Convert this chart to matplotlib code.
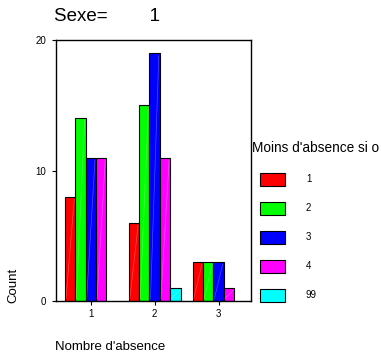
import matplotlib
matplotlib.use("Agg")
import matplotlib.pyplot as plt
import numpy as np
from matplotlib.patches import Patch

plt.rcParams['font.family'] = ['Liberation Sans', 'DejaVu Sans']

categories = ["1", "2", "3"]
series_labels = ["1", "2", "3", "4", "99"]
counts = {
    "1": [8, 6, 3],
    "2": [14, 15, 3],
    "3": [11, 19, 3],
    "4": [11, 11, 1],
    "99": [0, 1, 0],
}
colors = ["#FF0000", "#00FF00", "#0000FF", "#FF00FF", "#00FFFF"]
y_ticks = [0, 10, 20]

fig = plt.figure(figsize=(3.81, 3.58), dpi=100)
ax = fig.add_axes([0.147, 0.159, 0.512, 0.729])

x = np.arange(1, len(categories) + 1)
width = 0.162
n = len(series_labels)
for i, (lab, col) in enumerate(zip(series_labels, colors)):
    vals = np.array(counts[lab])
    off = (i - (n - 1) / 2) * width
    mask = vals > 0
    bars = ax.bar(x[mask] + off, vals[mask], width=width, color=col,
                  edgecolor="black", linewidth=0.8)
    # faint diagonal sheen across each bar
    for b in bars:
        x0, w, h = b.get_x(), b.get_width(), b.get_height()
        ax.plot([x0 + w * 0.1, x0 + w * 0.9], [0.2, h - 0.2], color="white",
                alpha=0.3, linewidth=0.5)

ax.set_xlim(0.455, 3.51)
ax.set_ylim(0, 20)
ax.set_xticks(x)
ax.set_xticklabels(categories)
ax.set_yticks(y_ticks)
ax.tick_params(axis="both", labelsize=7, length=3, width=0.8, direction="out",
               pad=4)
ax.tick_params(axis="x", pad=3)
for s in ax.spines.values():
    s.set_linewidth(1.0)

fig.text(0.143, 0.953, "Sexe=        1", fontsize=13.5, ha="left", va="center")
fig.text(0.036, 0.204, "Count", fontsize=9.5, rotation=90, ha="center", va="center")
fig.text(0.144, 0.03, "Nombre d'absence", fontsize=9.5, ha="left", va="center")

fig.text(0.661, 0.587, "Moins d'absence si o", fontsize=9.8, ha="left", va="center")
handles = [Patch(facecolor=c, edgecolor="black", linewidth=0.8) for c in colors]
leg = fig.legend(handles, series_labels, loc="upper left",
                 bbox_to_anchor=(0.682, 0.518), frameon=False,
                 fontsize=7, handlelength=2.57, handleheight=1.68,
                 labelspacing=1.65, handletextpad=2.16,
                 borderpad=0, borderaxespad=0)

fig.savefig("out.png", dpi=100)
